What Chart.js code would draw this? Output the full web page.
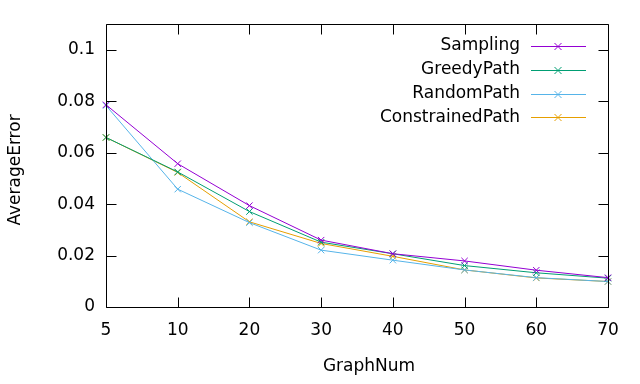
<!DOCTYPE html>
<html>
<head>
<meta charset="utf-8">
<script src="https://cdn.jsdelivr.net/npm/chart.js@4/dist/chart.umd.min.js"></script>
<style>
  html, body { margin: 0; padding: 0; background: #fff; }
  #wrap { width: 640px; height: 384px; position: relative; }
</style>
</head>
<body>
<div id="wrap"><canvas id="c"></canvas></div>
<script>
const graphNum = ["5", "10", "20", "30", "40", "50", "60", "70"];
const sampling = [0.0786, 0.0557, 0.0394, 0.0260, 0.0207, 0.0179, 0.0143, 0.0114];
const greedyPath = [0.0659, 0.0525, 0.0371, 0.0252, 0.0207, 0.0161, 0.0133, 0.0112];
const randomPath = [0.0783, 0.0458, 0.0328, 0.0221, 0.0182, 0.0144, 0.0114, 0.0099];
const constrainedPath = [0.0659, 0.0523, 0.0331, 0.0247, 0.0197, 0.0144, 0.0113, 0.0099];
const yTicks = [0, 0.02, 0.04, 0.06, 0.08, 0.1];

const FONT = "DejaVu Sans";
const series = [
  ["Sampling", sampling, "#9400d3"],
  ["GreedyPath", greedyPath, "#009e73"],
  ["RandomPath", randomPath, "#56b4e9"],
  ["ConstrainedPath", constrainedPath, "#e69f00"]
];

// frame, inward ticks, key and axis titles, gnuplot style
const gnuFrame = {
  id: "gnuFrame",
  afterDraw(chart) {
    const { ctx, chartArea: a, scales } = chart;
    const L = Math.round(a.left) + 0.5, R = Math.round(a.right) + 0.5;
    const T = Math.round(a.top) + 0.5, B = Math.round(a.bottom) + 0.5;
    ctx.save();
    ctx.strokeStyle = "#000";
    ctx.lineWidth = 1;
    ctx.beginPath();
    scales.y.ticks.forEach(t => {
      const y = Math.round(scales.y.getPixelForValue(t.value)) + 0.5;
      ctx.moveTo(L, y); ctx.lineTo(L + 10, y);
      ctx.moveTo(R, y); ctx.lineTo(R - 10, y);
    });
    scales.x.ticks.forEach((t, i) => {
      const x = Math.round(scales.x.getPixelForTick(i)) + 0.5;
      ctx.moveTo(x, B); ctx.lineTo(x, B - 10);
      ctx.moveTo(x, T); ctx.lineTo(x, T + 10);
    });
    ctx.rect(L, T, R - L, B - T);
    ctx.stroke();

    // key
    ctx.font = `17px "${FONT}"`;
    ctx.textBaseline = "middle";
    ctx.textAlign = "right";
    chart.data.datasets.forEach((ds, i) => {
      const y = 46 + i * 23.8;
      ctx.fillStyle = "#000";
      ctx.fillText(ds.label, 520, y);
      ctx.strokeStyle = ds.borderColor;
      ctx.beginPath();
      ctx.moveTo(531, Math.round(y) + 0.5); ctx.lineTo(586, Math.round(y) + 0.5);
      const cx = 558, cy = Math.round(y) + 0.5, r = 3.5;
      ctx.moveTo(cx - r, cy - r); ctx.lineTo(cx + r, cy + r);
      ctx.moveTo(cx - r, cy + r); ctx.lineTo(cx + r, cy - r);
      ctx.stroke();
    });

    // axis titles
    ctx.fillStyle = "#000";
    ctx.textAlign = "center";
    ctx.fillText("GraphNum", 369, 367);
    ctx.translate(16, 170);
    ctx.rotate(-Math.PI / 2);
    ctx.fillText("AverageError", 0, 0);
    ctx.restore();
  }
};

new Chart(document.getElementById("c"), {
  type: "line",
  data: {
    labels: graphNum,
    datasets: series.map(([label, data, color]) => ({
      label, data,
      borderColor: color,
      backgroundColor: color,
      borderWidth: 1,
      pointStyle: "crossRot",
      pointRadius: 4.5,
      pointBorderWidth: 1,
      pointBorderColor: color,
      tension: 0,
      fill: false
    }))
  },
  options: {
    responsive: true,
    maintainAspectRatio: false,
    animation: false,
    layout: { padding: { left: 0, top: 24, right: 32, bottom: 0 } },
    plugins: { legend: { display: false }, tooltip: { enabled: false } },
    scales: {
      x: {
        type: "category",
        offset: false,
        grid: { display: false, drawTicks: false },
        border: { display: false },
        ticks: { color: "#000", padding: 13, maxRotation: 0, font: { family: FONT, size: 17 } },
        afterFit(s) { s.height = 77; }
      },
      y: {
        min: 0,
        max: 0.11,
        grid: { display: false, drawTicks: false },
        border: { display: false },
        ticks: {
          color: "#000",
          padding: 11,
          font: { family: FONT, size: 17 },
          callback: v => String(+(+v).toFixed(2))
        },
        afterBuildTicks(s) { s.ticks = yTicks.map(value => ({ value })); },
        afterFit(s) { s.width = 106; }
      }
    }
  },
  plugins: [gnuFrame]
});
</script>
</body>
</html>
